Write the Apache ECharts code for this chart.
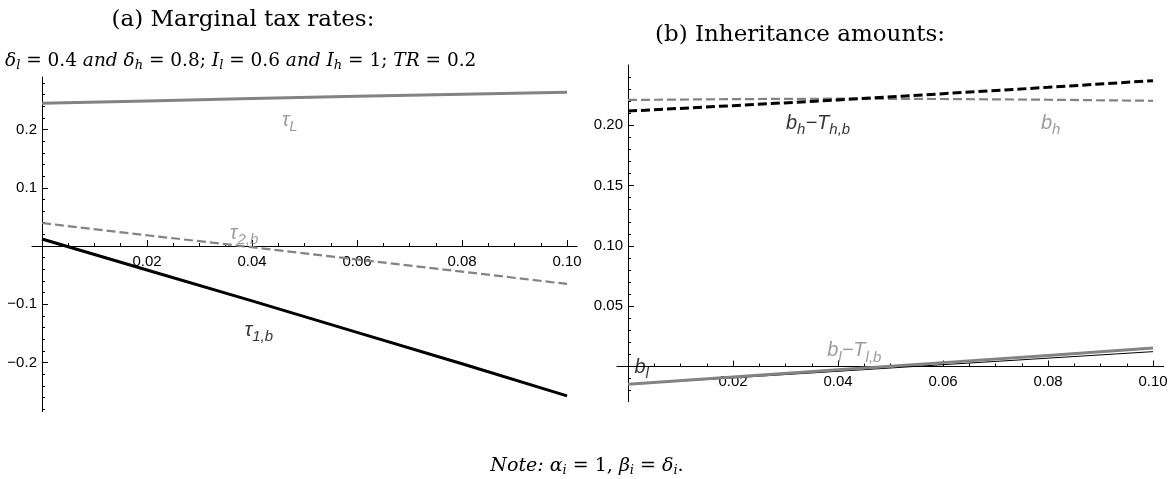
<!DOCTYPE html>
<html>
<head>
<meta charset="utf-8">
<script src="https://cdn.jsdelivr.net/npm/echarts@6/dist/echarts.min.js"></script>
<style>
  html, body { margin: 0; padding: 0; background: #fff; }
  #chart { width: 1172px; height: 479px; }
</style>
</head>
<body>
<div id="chart"></div>
<script>
// ---- data: bequest tax parameter on the horizontal axis ----
const xs = [0, 0.02, 0.04, 0.06, 0.08, 0.10];

// (a) marginal tax rates
const tauL  = [0.245, 0.249, 0.253, 0.257, 0.2605, 0.264];
const tau2b = [0.0395, 0.0185, -0.002, -0.023, -0.044, -0.065];
const tau1b = [0.012, -0.041, -0.094, -0.148, -0.202, -0.257];

// (b) inheritance amounts
const bh      = [0.221, 0.2217, 0.2221, 0.2218, 0.2212, 0.2203];
const bhNet   = [0.2118, 0.2163, 0.221, 0.2262, 0.2315, 0.237];
const bl      = [-0.0148, -0.0094, -0.004, 0.0015, 0.0069, 0.0123];
const blNet   = [-0.0148, -0.0088, -0.0028, 0.0032, 0.0092, 0.0153];

// tick labels
const xTickLabels = [0.02, 0.04, 0.06, 0.08, 0.10];
const yTickLabelsA = [-0.2, -0.1, 0.1, 0.2];
const yTickLabelsB = [0.05, 0.10, 0.15, 0.20];

// minor tick positions between the labelled ticks
function steps(from, to, step) {
  const out = [];
  for (let k = Math.round(from / step); k * step <= to + 1e-9; k++) out.push(+(k * step).toFixed(4));
  return out;
}
const xMinor = steps(0, 0.1, 0.005);
const yMinorA = steps(-0.28, 0.28, 0.02);
const yMinorB = steps(-0.02, 0.24, 0.01);

const pairs = ys => xs.map((x, i) => [x, ys[i]]);

const GRAY = '#838383';
const SANS = 'Liberation Sans';
const SERIF = 'DejaVu Serif';

// plot frames and their value ranges
const frames = [
  { rect: { left: 32, top: 77, width: 545, height: 334.6 }, x: [-0.0019, 0.1019], y: [-0.284, 0.29] },
  { rect: { left: 617, top: 65, width: 546.5, height: 336.7 }, x: [-0.0021, 0.1020], y: [-0.0292, 0.25] }
];
// shift the axes so that they cross at the origin
const xShift = f => -f.rect.height * (0 - f.y[0]) / (f.y[1] - f.y[0]);
const yShift = f => -f.rect.width * (0 - f.x[0]) / (f.x[1] - f.x[0]);

function xAxisPair(gi) {
  const f = frames[gi];
  const base = { type: 'value', gridIndex: gi, min: f.x[0], max: f.x[1], position: 'bottom', offset: xShift(f), splitLine: { show: false } };
  return [
    Object.assign({}, base, {
      axisLine: { show: true, onZero: false, lineStyle: { color: '#000', width: 1 } },
      axisTick: { show: true, inside: true, length: 6, customValues: xTickLabels, lineStyle: { color: '#000' } },
      axisLabel: { customValues: xTickLabels, formatter: v => v.toFixed(2), color: '#000', fontFamily: SANS, fontSize: 15, margin: 8 }
    }),
    Object.assign({}, base, {
      axisLine: { show: false, onZero: false },
      axisTick: { show: true, inside: true, length: 3, customValues: xMinor, lineStyle: { color: '#000' } },
      axisLabel: { show: false }
    })
  ];
}
function yAxisPair(gi, labels, minor, fmt) {
  const f = frames[gi];
  const base = { type: 'value', gridIndex: gi, min: f.y[0], max: f.y[1], position: 'left', offset: yShift(f), splitLine: { show: false } };
  return [
    Object.assign({}, base, {
      axisLine: { show: true, onZero: false, lineStyle: { color: '#000', width: 1 } },
      axisTick: { show: true, inside: true, length: 6, customValues: labels, lineStyle: { color: '#000' } },
      axisLabel: { customValues: labels, formatter: fmt, color: '#000', fontFamily: SANS, fontSize: 15, margin: 5 }
    }),
    Object.assign({}, base, {
      axisLine: { show: false, onZero: false },
      axisTick: { show: true, inside: true, length: 3, customValues: minor, lineStyle: { color: '#000' } },
      axisLabel: { show: false }
    })
  ];
}
const fmtA = v => (v < 0 ? '\u2212' + Math.abs(v).toFixed(1) : v.toFixed(1));
const fmtB = v => v.toFixed(2);

function line(name, ys, xi, yi, color, width, dashed) {
  return {
    type: 'line', name, data: pairs(ys), xAxisIndex: xi, yAxisIndex: yi,
    showSymbol: false, symbol: 'none', silent: true, animation: false,
    lineStyle: { color, width, type: dashed ? [9, 4] : 'solid', cap: 'butt' },
    z: 3
  };
}

// curve labels, anchored in data coordinates
const richLab = color => ({
  m: { fontFamily: SANS, fontStyle: 'italic', fontSize: 20, color },
  s: { fontFamily: SANS, fontStyle: 'italic', fontSize: 15, color, padding: [13, 0, 0, 0] }
});
function tag(text, at, xi, yi, color) {
  return {
    type: 'scatter', data: [at], xAxisIndex: xi, yAxisIndex: yi, symbolSize: 0,
    silent: true, animation: false, z: 5,
    label: { show: true, position: 'inside', formatter: text, rich: richLab(color) }
  };
}

const option = {
  backgroundColor: '#fff',
  animation: false,
  grid: frames.map(f => f.rect),
  xAxis: [...xAxisPair(0), ...xAxisPair(1)],
  yAxis: [...yAxisPair(0, yTickLabelsA, yMinorA, fmtA), ...yAxisPair(1, yTickLabelsB, yMinorB, fmtB)],
  series: [
    line('tauL', tauL, 0, 0, GRAY, 3, false),
    line('tau2b', tau2b, 0, 0, GRAY, 2.2, true),
    line('tau1b', tau1b, 0, 0, '#000', 3, false),
    line('bh', bh, 2, 2, GRAY, 2.2, true),
    line('bhNet', bhNet, 2, 2, '#000', 3, true),
    line('bl', bl, 2, 2, '#000', 1, false),
    line('blNet', blNet, 2, 2, GRAY, 3, false),

    tag('{m|τ}{s|L}', [0.0472, 0.216], 0, 0, GRAY),
    tag('{m|τ}{s|2,b}', [0.0385, 0.0223], 0, 0, GRAY),
    tag('{m|τ}{s|1,b}', [0.0413, -0.144], 0, 0, '#000'),
    tag('{m|b}{s|h}{m|\u2212T}{s|h,b}', [0.0362, 0.2019], 2, 2, '#000'),
    tag('{m|b}{s|h}', [0.0805, 0.2019], 2, 2, GRAY),
    tag('{m|b}{s|l}', [0.0026, -0.0004], 2, 2, '#000'),
    tag('{m|b}{s|l}{m|\u2212T}{s|l,b}', [0.0431, 0.0129], 2, 2, GRAY)
  ],
  graphic: [
    {
      type: 'text', x: 243, y: 20, silent: true,
      style: { text: '(a) Marginal tax rates:', align: 'center', verticalAlign: 'middle',
               fontFamily: SERIF, fontSize: 23, fill: '#000' }
    },
    {
      type: 'text', x: 800, y: 35, silent: true,
      style: { text: '(b) Inheritance amounts:', align: 'center', verticalAlign: 'middle',
               fontFamily: SERIF, fontSize: 23, fill: '#000' }
    },
    {
      type: 'text', x: 5, y: 61, silent: true,
      style: {
        text: '{m|δ}{s|l}{n| = 0.4 }{i|and}{m| δ}{s|h}{n| = 0.8; }{m|I}{s|l}{n| = 0.6 }{i|and}{m| I}{s|h}{n| = 1; }{m|TR}{n| = 0.2}',
        align: 'left', verticalAlign: 'middle',
        rich: {
          n: { fontFamily: SERIF, fontSize: 18.5, fill: '#000' },
          m: { fontFamily: SERIF, fontStyle: 'italic', fontSize: 18.5, fill: '#000' },
          i: { fontFamily: SERIF, fontStyle: 'italic', fontSize: 18.5, fill: '#000' },
          s: { fontFamily: SERIF, fontStyle: 'italic', fontSize: 13, fill: '#000', padding: [10, 0, 0, 0] }
        }
      }
    },
    {
      type: 'text', x: 587, y: 466, silent: true,
      style: {
        text: '{i|Note:}{n| }{m|α}{s|i}{n| = 1, }{m|β}{s|i}{n| = }{m|δ}{s|i}{n|.}',
        align: 'center', verticalAlign: 'middle',
        rich: {
          n: { fontFamily: SERIF, fontSize: 19, fill: '#000' },
          m: { fontFamily: SERIF, fontStyle: 'italic', fontSize: 19, fill: '#000' },
          i: { fontFamily: SERIF, fontStyle: 'italic', fontSize: 19, fill: '#000' },
          s: { fontFamily: SERIF, fontStyle: 'italic', fontSize: 13, fill: '#000', padding: [10, 0, 0, 0] }
        }
      }
    }
  ]
};

const chart = echarts.init(document.getElementById('chart'), null, { renderer: 'canvas' });
chart.setOption(option);
</script>
</body>
</html>
